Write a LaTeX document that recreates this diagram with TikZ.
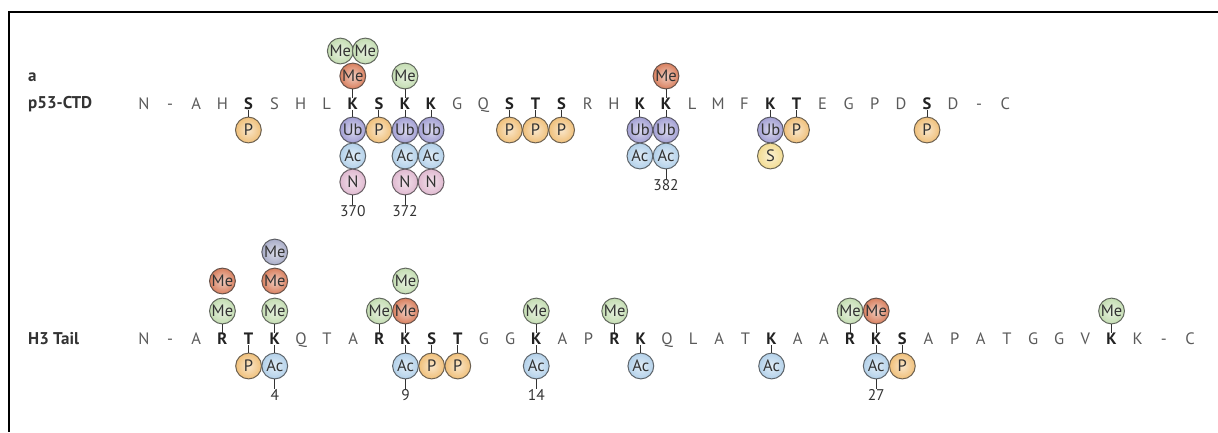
\documentclass[tikz,border=0pt]{standalone}
\usepackage{fontspec}
\setmainfont{PT Sans}
\definecolor{cmeg}{HTML}{C4DDB2}
\definecolor{cmer}{HTML}{D9805F}
\definecolor{cmeb}{HTML}{A9ADC8}
\definecolor{cub}{HTML}{A3A0D4}
\definecolor{cac}{HTML}{B3D1EA}
\definecolor{cn}{HTML}{E0B9D0}
\definecolor{cp}{HTML}{F0C07A}
\definecolor{cs}{HTML}{F3DC92}
\definecolor{seqgray}{HTML}{5A5A5A}
\definecolor{seqdark}{HTML}{222222}
\definecolor{txtc}{HTML}{333333}
\newcommand\modc[5]{\node[mc=#4] (#1) at (#2 |- 0,#3) {#5};}
\newcommand\tup[2]{\draw[tick] (#2.south) -- (#1.north);}
\newcommand\tdn[2]{\draw[tick] (#1.south) -- (#2.north);}
\begin{document}
\begin{tikzpicture}[x=1pt,y=-1pt,
 res0/.style={text=seqgray, font=\fontsize{16.5}{16.5}\selectfont, inner sep=0.5pt, text height=11.5pt, text depth=0pt},
 res1/.style={res0, text=seqdark, font=\fontsize{16.5}{16.5}\selectfont\bfseries},
 mc/.style={circle, minimum size=25.8pt, inner sep=0pt, shade, inner color=#1!40!white, outer color=#1, draw=#1!30!black!80, line width=1pt, font=\fontsize{16.5}{16.5}\selectfont, text=txtc},
 tick/.style={draw=txtc, line width=0.9pt},
 num/.style={font=\fontsize{15.5}{15.5}\selectfont, text=txtc, inner sep=0.5pt, text height=11pt, text depth=0pt},
 lbl/.style={font=\fontsize{17}{17}\selectfont\bfseries, text=txtc, anchor=west, inner sep=0pt}
]
\useasboundingbox (0,0) rectangle (1218,432);
\coordinate (fr1) at (1218,12);
\coordinate (fr2) at (9,12);
\coordinate (fr3) at (9,432);
\draw[line width=2pt, black] (fr1) -- (fr2) -- (fr3);

\node[lbl] (la) at (28,77) {a};
\node[lbl] (lp53) at (28,104) {p53-CTD};
\node[lbl] (lh3) at (28,339) {H3 Tail};

% p53 sequence
\foreach \c/\b [count=\i from 0] in {N/0,-/0,A/0,H/0,S/1,S/0,H/0,L/0,K/1,S/1,K/1,K/1,G/0,Q/0,S/1,T/1,S/1,R/0,H/0,K/1,K/1,L/0,M/0,F/0,K/1,T/1,E/0,G/0,P/0,D/0,S/1,D/0,-/0,C/0}
  \node[res\b] (p\i) at ({144+26.1*\i},104) {\c};

% H3 sequence
\foreach \c/\b [count=\i from 0] in {N/0,-/0,A/0,R/1,T/1,K/1,Q/0,T/0,A/0,R/1,K/1,S/1,T/1,G/0,G/0,K/1,A/0,P/0,R/1,K/1,Q/0,L/0,A/0,T/0,K/1,A/0,A/0,R/1,K/1,S/1,A/0,P/0,A/0,T/0,G/0,G/0,V/0,K/1,K/0,-/0,C/0}
  \node[res\b] (h\i) at ({144+26.15*\i},339) {\c};

% ---- p53 modifications
\modc{p4b}{p4}{130}{cp}{P} \tdn{p4}{p4b}
% K370
\modc{p8a}{p8}{76}{cmer}{Me} \tup{p8}{p8a}
\node[mc=cmeg, xshift=-12.5pt] (p8aa) at (p8 |- 0,51) {Me};
\node[mc=cmeg, xshift=12.5pt] (p8ab) at (p8 |- 0,51) {Me};
\modc{p8b}{p8}{130}{cub}{Ub} \tdn{p8}{p8b}
\modc{p8c}{p8}{156}{cac}{Ac}
\modc{p8d}{p8}{182}{cn}{N}
\node[num] (n370) at (p8 |- 0,211) {370}; \tdn{p8d}{n370}
\modc{p9b}{p9}{130}{cp}{P} \tdn{p9}{p9b}
% K372
\modc{p10a}{p10}{76}{cmeg}{Me} \tup{p10}{p10a}
\modc{p10b}{p10}{130}{cub}{Ub} \tdn{p10}{p10b}
\modc{p10c}{p10}{156}{cac}{Ac}
\modc{p10d}{p10}{182}{cn}{N}
\node[num] (n372) at (p10 |- 0,211) {372}; \tdn{p10d}{n372}
\modc{p11b}{p11}{130}{cub}{Ub} \tdn{p11}{p11b}
\modc{p11c}{p11}{156}{cac}{Ac}
\modc{p11d}{p11}{182}{cn}{N}
\modc{p14b}{p14}{130}{cp}{P} \tdn{p14}{p14b}
\modc{p15b}{p15}{130}{cp}{P} \tdn{p15}{p15b}
\modc{p16b}{p16}{130}{cp}{P} \tdn{p16}{p16b}
\modc{p19b}{p19}{130}{cub}{Ub} \tdn{p19}{p19b}
\modc{p19c}{p19}{156}{cac}{Ac}
\modc{p20a}{p20}{76}{cmer}{Me} \tup{p20}{p20a}
\modc{p20b}{p20}{130}{cub}{Ub} \tdn{p20}{p20b}
\modc{p20c}{p20}{156}{cac}{Ac}
\node[num] (n382) at (p20 |- 0,185) {382}; \tdn{p20c}{n382}
\modc{p24b}{p24}{130}{cub}{Ub} \tdn{p24}{p24b}
\modc{p24c}{p24}{156}{cs}{S}
\modc{p25b}{p25}{130}{cp}{P} \tdn{p25}{p25b}
\modc{p30b}{p30}{130}{cp}{P} \tdn{p30}{p30b}

% ---- H3 modifications
\modc{h3a}{h3}{311}{cmeg}{Me} \tup{h3}{h3a}
\modc{h3aa}{h3}{281}{cmer}{Me}
\modc{h4b}{h4}{366}{cp}{P} \tdn{h4}{h4b}
\modc{h5a}{h5}{311}{cmeg}{Me} \tup{h5}{h5a}
\modc{h5aa}{h5}{281}{cmer}{Me}
\modc{h5ab}{h5}{252}{cmeb}{Me}
\modc{h5b}{h5}{366}{cac}{Ac} \tdn{h5}{h5b}
\node[num] (n4) at (h5 |- 0,395) {4}; \tdn{h5b}{n4}
\modc{h9a}{h9}{311}{cmeg}{Me} \tup{h9}{h9a}
\modc{h10a}{h10}{311}{cmer}{Me} \tup{h10}{h10a}
\modc{h10aa}{h10}{281}{cmeg}{Me}
\modc{h10b}{h10}{366}{cac}{Ac} \tdn{h10}{h10b}
\node[num] (n9) at (h10 |- 0,395) {9}; \tdn{h10b}{n9}
\modc{h11b}{h11}{366}{cp}{P} \tdn{h11}{h11b}
\modc{h12b}{h12}{366}{cp}{P} \tdn{h12}{h12b}
\modc{h15a}{h15}{311}{cmeg}{Me} \tup{h15}{h15a}
\modc{h15b}{h15}{366}{cac}{Ac} \tdn{h15}{h15b}
\node[num] (n14) at (h15 |- 0,395) {14}; \tdn{h15b}{n14}
\modc{h18a}{h18}{311}{cmeg}{Me} \tup{h18}{h18a}
\modc{h19b}{h19}{366}{cac}{Ac} \tdn{h19}{h19b}
\modc{h24b}{h24}{366}{cac}{Ac} \tdn{h24}{h24b}
\modc{h27a}{h27}{311}{cmeg}{Me} \tup{h27}{h27a}
\modc{h28a}{h28}{311}{cmer}{Me} \tup{h28}{h28a}
\modc{h28b}{h28}{366}{cac}{Ac} \tdn{h28}{h28b}
\node[num] (n27) at (h28 |- 0,395) {27}; \tdn{h28b}{n27}
\modc{h29b}{h29}{366}{cp}{P} \tdn{h29}{h29b}
\modc{h37a}{h37}{311}{cmeg}{Me} \tup{h37}{h37a}
\end{tikzpicture}
\end{document}
